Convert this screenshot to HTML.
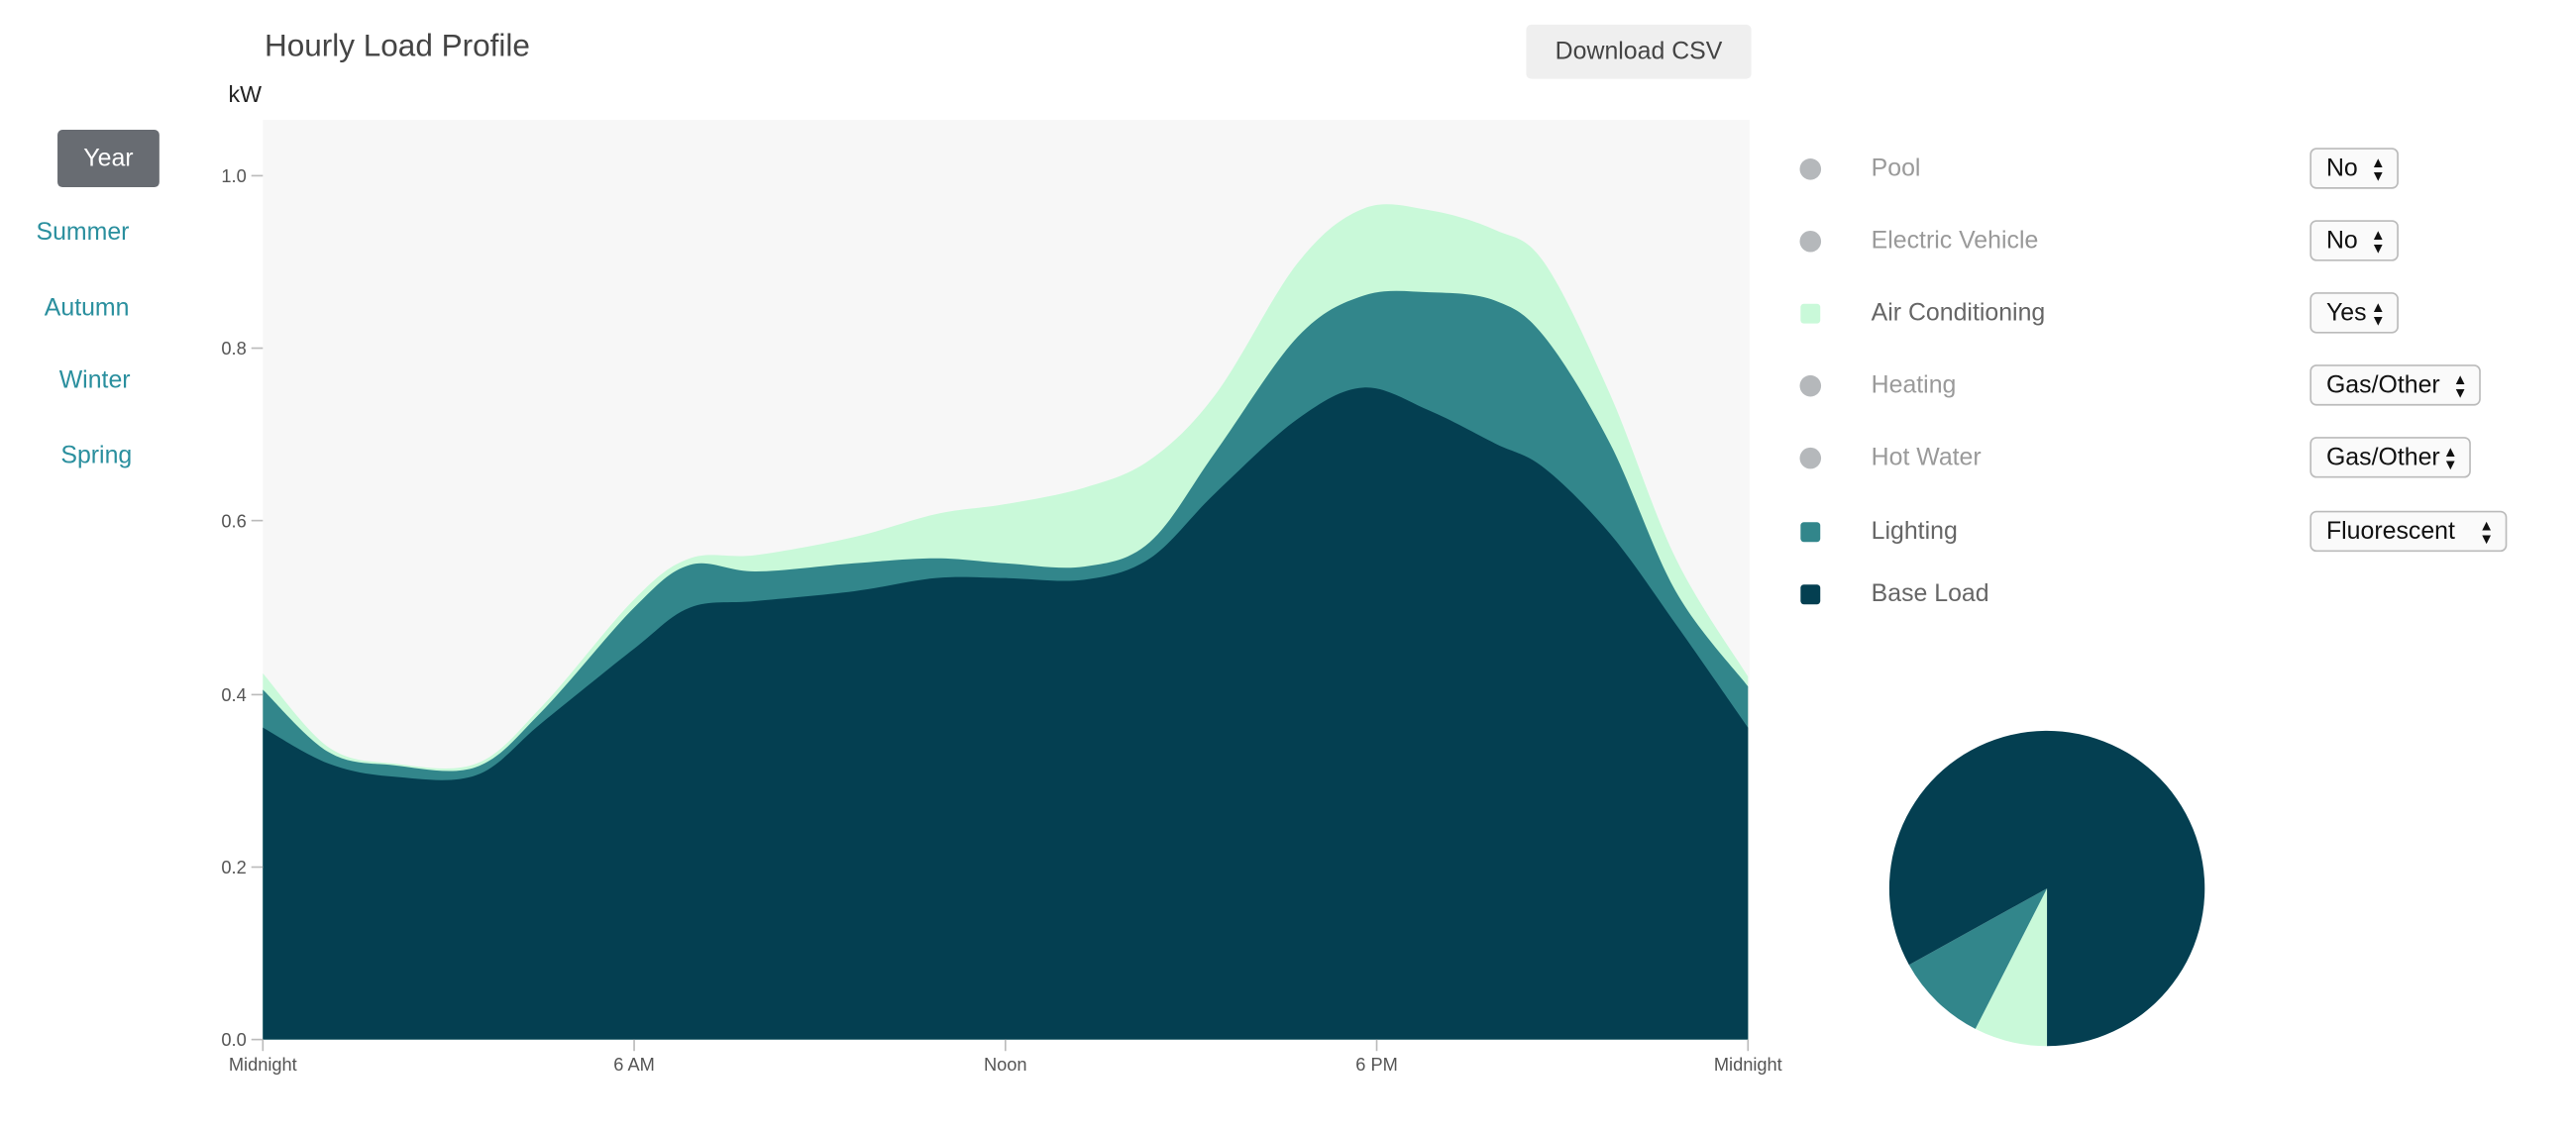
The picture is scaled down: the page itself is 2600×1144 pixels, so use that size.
<!DOCTYPE html>
<html><head><meta charset="utf-8"><style>
html,body{margin:0;padding:0;background:#fff;width:2600px;height:1144px;overflow:hidden}
#w{position:absolute;left:0;top:0;width:1568px;height:690px;transform:scale(1.65816);transform-origin:0 0;font-family:"Liberation Sans",sans-serif}
.t{position:absolute;white-space:nowrap}
.nav{color:#2a8f9e;font-size:15px}
.lg{color:#9a9a9a;font-size:15px}
.sel{position:absolute;border:1px solid #bbb;border-radius:4px;height:25px;box-sizing:border-box;background:#fafafa;font-size:15px;line-height:23px;padding-left:9px;color:#111}
.sel span{position:absolute;right:7px;top:0;font-size:9px;line-height:8px;padding-top:4px}
</style></head><body><div id="w">
<div class="t" style="left:161px;top:18px;font-size:19px;color:#444">Hourly Load Profile</div>
<div class="t" style="left:929px;top:15px;width:137px;height:33px;background:#efefef;border-radius:3px;font-size:15px;color:#444;text-align:center;line-height:33px">Download CSV</div>
<div class="t" style="left:139px;top:49px;font-size:14px;color:#222">kW</div>
<div class="t" style="left:35px;top:79px;width:62px;height:35px;background:#686c72;border-radius:3px;color:#fff;font-size:15px;text-align:center;line-height:35px">Year</div>
<div class="t nav" style="left:22px;top:133px">Summer</div>
<div class="t nav" style="left:27px;top:179px">Autumn</div>
<div class="t nav" style="left:36px;top:223px">Winter</div>
<div class="t nav" style="left:37px;top:269px">Spring</div>
<svg width="1568" height="690" style="position:absolute;left:0;top:0">
<rect x="160" y="73" width="905" height="560" fill="#f7f7f7"/>
<path id="ac" fill="#c9f9d9"/><path id="li" fill="#32868b"/><path id="bl" fill="#043f51"/>
<g font-size="11" fill="#555" text-anchor="end" font-family="Liberation Sans">
<text x="150" y="111">1.0</text><text x="150" y="216">0.8</text><text x="150" y="321">0.6</text><text x="150" y="427">0.4</text><text x="150" y="532">0.2</text><text x="150" y="637">0.0</text></g>
<g stroke="#bbb"><line x1="153" x2="160" y1="107" y2="107"/><line x1="153" x2="160" y1="212" y2="212"/><line x1="153" x2="160" y1="317" y2="317"/><line x1="153" x2="160" y1="423" y2="423"/><line x1="153" x2="160" y1="528" y2="528"/><line x1="153" x2="160" y1="633" y2="633"/>
<line x1="160" x2="160" y1="633" y2="640"/><line x1="386" x2="386" y1="633" y2="640"/><line x1="612" x2="612" y1="633" y2="640"/><line x1="838" x2="838" y1="633" y2="640"/><line x1="1064" x2="1064" y1="633" y2="640"/></g>
<g font-size="11" fill="#555" text-anchor="middle" font-family="Liberation Sans">
<text x="160" y="652">Midnight</text><text x="386" y="652">6 AM</text><text x="612" y="652">Noon</text><text x="838" y="652">6 PM</text><text x="1064" y="652">Midnight</text></g>
<circle cx="1102" cy="103" r="6.5" fill="#b5b8bb"/><circle cx="1102" cy="147" r="6.5" fill="#b5b8bb"/>
<rect x="1096" y="185" width="12" height="12" rx="2" fill="#c9f9d9"/>
<circle cx="1102" cy="235" r="6.5" fill="#b5b8bb"/><circle cx="1102" cy="279" r="6.5" fill="#b5b8bb"/>
<rect x="1096" y="318" width="12" height="12" rx="2" fill="#32868b"/>
<rect x="1096" y="356" width="12" height="12" rx="2" fill="#043f51"/>
<g id="pie"></g>
</svg>
<div class="t lg" style="left:1139px;top:94px">Pool</div>
<div class="t lg" style="left:1139px;top:138px">Electric Vehicle</div>
<div class="t lg" style="left:1139px;top:182px;color:#666">Air Conditioning</div>
<div class="t lg" style="left:1139px;top:226px">Heating</div>
<div class="t lg" style="left:1139px;top:270px">Hot Water</div>
<div class="t lg" style="left:1139px;top:315px;color:#666">Lighting</div>
<div class="t lg" style="left:1139px;top:353px;color:#666">Base Load</div>
<div class="sel" style="left:1406px;top:90px;width:54px">No<span>▲<br>▼</span></div>
<div class="sel" style="left:1406px;top:134px;width:54px">No<span>▲<br>▼</span></div>
<div class="sel" style="left:1406px;top:178px;width:54px">Yes<span>▲<br>▼</span></div>
<div class="sel" style="left:1406px;top:222px;width:104px">Gas/Other<span>▲<br>▼</span></div>
<div class="sel" style="left:1406px;top:266px;width:98px">Gas/Other<span>▲<br>▼</span></div>
<div class="sel" style="left:1406px;top:311px;width:120px">Fluorescent<span>▲<br>▼</span></div>
</div>
<script>
var X=[160,200,240,290,330,386,420,460,520,570,612,660,700,740,790,830,870,910,940,980,1020,1064];
var B=[443,465,473,472,440,395,370,366,360,352,352,353,340,300,255,236,250,270,285,325,380,443];
var L=[420,458,466,467,433,370,344,348,343,340,343,345,330,275,205,180,178,183,205,270,360,418];
var A=[410,455,465,465,430,365,340,338,327,313,307,297,280,240,160,127,128,140,160,240,340,412];
function cr(Y){var d="M160,633 L"+X[0]+","+Y[0];for(var i=0;i<X.length-1;i++){var p0=i?i-1:i,p3=i+2<X.length?i+2:i+1;
var c1x=X[i]+(X[i+1]-X[p0])/6,c1y=Y[i]+(Y[i+1]-Y[p0])/6,c2x=X[i+1]-(X[p3]-X[i])/6,c2y=Y[i+1]-(Y[p3]-Y[i])/6;
d+=" C"+c1x+","+c1y+" "+c2x+","+c2y+" "+X[i+1]+","+Y[i+1];}return d+" L1064,633 Z";}
document.getElementById("ac").setAttribute("d",cr(A));
document.getElementById("li").setAttribute("d",cr(L));
document.getElementById("bl").setAttribute("d",cr(B));
var cx=1246,cy=541,r=96;function pt(a){a=a*Math.PI/180;return (cx+r*Math.cos(a))+","+(cy+r*Math.sin(a));}
function arc(a0,a1,c){var lg=(a1-a0)>180?1:0;return '<path fill="'+c+'" d="M'+cx+','+cy+' L'+pt(a0)+' A'+r+','+r+' 0 '+lg+' 1 '+pt(a1)+' Z"/>';}
document.getElementById("pie").innerHTML=arc(90,117,"#c9f9d9")+arc(117,151,"#32868b")+arc(151,450,"#043f51");
</script>
</body></html>
